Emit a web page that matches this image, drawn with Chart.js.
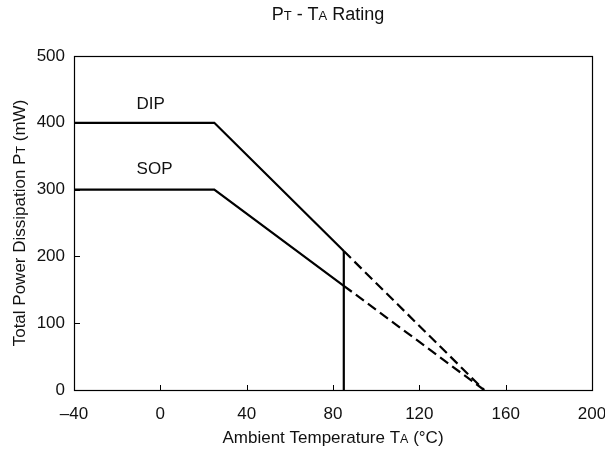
<!DOCTYPE html>
<html>
<head>
<meta charset="utf-8">
<script src="https://cdn.jsdelivr.net/npm/chart.js@4.4.1/dist/chart.umd.min.js"></script>
<style>
  html, body { margin: 0; padding: 0; background: #fff; }
  #wrap { width: 605px; height: 453px; }
</style>
</head>
<body>
<div id="wrap"><canvas id="chart" width="605" height="453"></canvas></div>
<script>
  // data
  const dipSolid = [{ x: -40, y: 400 }, { x: 25, y: 400 }, { x: 85, y: 208 }];
  const dipDashed = [{ x: 85, y: 208 }, { x: 150, y: 0 }];
  const sopSolid = [{ x: -40, y: 300 }, { x: 25, y: 300 }, { x: 85, y: 156 }];
  const sopDashed = [{ x: 85, y: 156 }, { x: 150, y: 0 }];
  const limitLine = [{ x: 85, y: 0 }, { x: 85, y: 208 }];
  const seriesLabels = [{ text: "DIP", x: -11, y: 428 }, { text: "SOP", x: -11, y: 331 }];
  const xTicks = [-40, 0, 40, 80, 120, 160, 200];
  const yTicks = [0, 100, 200, 300, 400, 500];

  const FONT = "'Liberation Sans', Arial, sans-serif";
  const INK = "#000";

  function drawRich(ctx, parts, x, y, align) {
    let total = 0;
    parts.forEach((p) => {
      ctx.font = p.s + "px " + FONT;
      total += ctx.measureText(p.t).width;
    });
    let cx = align === "center" ? x - total / 2 : x;
    ctx.textAlign = "left";
    ctx.textBaseline = "alphabetic";
    parts.forEach((p) => {
      ctx.font = p.s + "px " + FONT;
      ctx.fillText(p.t, cx, y);
      cx += ctx.measureText(p.t).width;
    });
  }

  const decorations = {
    id: "decorations",
    afterDraw(chart) {
      const { ctx, chartArea: a, scales } = chart;
      const xs = scales.x, ys = scales.y;
      ctx.save();
      ctx.strokeStyle = INK;
      ctx.lineWidth = 1;
      // inner ticks
      ctx.beginPath();
      xTicks.forEach((v) => {
        const px = Math.round(xs.getPixelForValue(v)) + 0.5;
        ctx.moveTo(px, a.bottom);
        ctx.lineTo(px, a.bottom - 5);
      });
      yTicks.forEach((v) => {
        const py = Math.round(ys.getPixelForValue(v)) + 0.5;
        ctx.moveTo(a.left, py);
        ctx.lineTo(a.left + 6, py);
      });
      ctx.stroke();
      // frame
      ctx.lineWidth = 1.2;
      ctx.strokeRect(a.left + 0.5, a.top + 0.5, a.right - a.left, a.bottom - a.top);

      ctx.fillStyle = "#111";
      const mid = (a.left + a.right) / 2;
      drawRich(ctx, [{ t: "P", s: 18 }, { t: "T", s: 13 }, { t: " - T", s: 18 }, { t: "A", s: 13 }, { t: " Rating", s: 18 }], mid - 5, 20, "center");
      drawRich(ctx, [{ t: "Ambient Temperature T", s: 17 }, { t: "A", s: 12.5 }, { t: " (°C)", s: 17 }], mid, 443, "center");
      ctx.save();
      ctx.translate(25, (a.top + a.bottom) / 2);
      ctx.rotate(-Math.PI / 2);
      drawRich(ctx, [{ t: "Total Power Dissipation P", s: 17 }, { t: "T", s: 12.5 }, { t: " (mW)", s: 17 }], 0, 0, "center");
      ctx.restore();

      ctx.font = "17px " + FONT;
      ctx.textAlign = "left";
      ctx.textBaseline = "middle";
      seriesLabels.forEach((l) => {
        ctx.fillText(l.text, xs.getPixelForValue(l.x), ys.getPixelForValue(l.y));
      });
      ctx.restore();
    },
  };

  function line(data, dashed) {
    return {
      data,
      showLine: true,
      borderColor: INK,
      borderWidth: 2.2,
      borderDash: dashed ? [10, 5] : [],
      pointRadius: 0,
      tension: 0,
      fill: false,
    };
  }

  new Chart(document.getElementById("chart"), {
    type: "scatter",
    data: {
      datasets: [
        line(dipSolid, false),
        line(dipDashed, true),
        line(sopSolid, false),
        line(sopDashed, true),
        line(limitLine, false),
      ],
    },
    options: {
      responsive: false,
      animation: false,
      layout: { padding: { top: 56, right: 13, left: 0, bottom: 0 } },
      plugins: { legend: { display: false }, tooltip: { enabled: false } },
      scales: {
        x: {
          type: "linear",
          min: -40,
          max: 200,
          afterBuildTicks: (s) => { s.ticks = xTicks.map((v) => ({ value: v })); },
          afterFit: (s) => { s.height = 63; s.paddingLeft = 0; s.paddingRight = 0; },
          grid: { display: false, drawTicks: false },
          border: { display: false },
          ticks: {
            color: "#111",
            padding: 14,
            font: { family: FONT, size: 17 },
            maxRotation: 0,
            callback: (v) => (v < 0 ? "\u2013" + Math.abs(v) : String(v)),
          },
        },
        y: {
          type: "linear",
          min: 0,
          max: 500,
          afterBuildTicks: (s) => { s.ticks = yTicks.map((v) => ({ value: v })); },
          afterFit: (s) => { s.width = 74; s.paddingTop = 0; s.paddingBottom = 0; },
          grid: { display: false, drawTicks: false },
          border: { display: false },
          ticks: {
            color: "#111",
            padding: 9,
            font: { family: FONT, size: 17 },
          },
        },
      },
    },
    plugins: [decorations],
  });
</script>
</body>
</html>
